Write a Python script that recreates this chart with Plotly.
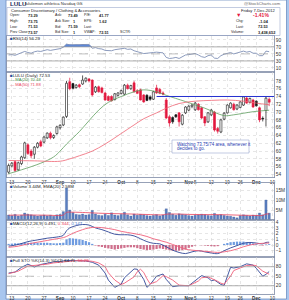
import plotly.graph_objects as go

W, H = 289, 300
def px(x): return x / W
def py(y): return 1 - y / H

FONT = "Liberation Sans"
RED = "#e3173e"
BLACK = "#111111"

# ---------------- data (trading-day index 0 = 10-Aug-2012 ... 81 = 7-Dec-2012) ----------------
opens = [54.6,56.2,57.3,55.2,56.8,58.3,61.6,60.0,59.2,61.0,
         62.4,62.3,63.4,64.6,63.5,64.5,66.0,66.7,68.9,77.8,
         77.3,76.3,77.0,77.2,78.0,78.5,78.2,75.2,76.5,76.2,
         74.9,74.0,74.0,73.2,74.3,74.8,74.6,76.9,76.0,77.5,
         75.5,75.7,74.4,74.3,73.9,73.3,76.2,75.8,74.9,73.1,
         68.8,68.6,69.3,69.8,66.9,69.8,70.5,71.5,70.6,72.0,
         71.1,68.8,67.5,69.3,70.0,65.8,64.9,68.2,69.8,71.1,
         72.0,70.8,71.2,71.8,73.6,72.5,73.1,72.8,71.1,68.4,
         70.4,73.29]
highs = [56.8,57.2,57.6,57.3,58.8,62.4,62.0,60.5,61.3,62.3,
         62.9,63.9,64.8,65.0,64.3,66.5,66.9,68.9,78.0,78.8,
         77.5,77.2,77.3,79.4,78.9,78.7,78.4,76.7,76.8,76.5,
         75.2,74.3,74.3,74.9,75.1,75.8,77.2,77.3,77.0,78.0,
         75.9,76.0,74.6,74.6,74.3,75.4,77.0,76.2,75.3,73.6,
         69.2,68.9,69.5,70.0,69.5,71.5,71.8,72.1,72.6,72.3,
         71.4,69.0,70.0,70.8,70.3,66.2,68.3,70.0,72.0,72.5,
         72.4,72.0,72.8,74.1,73.9,73.7,73.4,73.0,71.4,68.9,
         73.9,73.75]
lows = [54.2,55.8,54.6,54.9,56.4,58.0,59.0,58.2,58.0,60.7,
        61.0,62.0,63.1,63.0,63.1,64.2,65.5,66.4,68.5,75.6,
        75.8,76.0,76.2,77.0,77.6,77.6,74.0,74.9,75.0,74.8,
        72.9,72.8,72.7,73.0,74.0,74.5,74.3,75.8,75.7,75.0,
        74.6,73.0,72.4,72.8,72.9,73.1,74.7,74.6,74.3,68.2,
        66.3,67.0,68.5,66.3,66.6,69.5,70.2,71.0,70.3,70.4,
        68.2,66.4,67.2,69.0,65.0,64.5,64.6,67.9,69.6,70.9,
        70.4,70.5,71.0,71.6,72.1,72.2,71.1,71.4,67.4,67.6,
        66.3,71.53]
closes = [56.3,56.9,55.0,57.0,58.5,62.1,59.4,58.8,61.0,62.0,
          61.3,63.6,64.6,63.4,64.0,66.2,66.6,68.7,77.4,76.0,
          76.1,76.9,76.5,78.2,78.7,78.0,74.4,76.4,75.2,75.0,
          73.1,73.0,72.9,74.7,74.9,75.5,76.9,76.0,76.8,75.2,
          74.8,73.1,72.6,73.0,73.3,75.2,74.9,74.8,74.6,68.5,
          67.2,67.5,68.8,67.5,69.2,71.3,71.5,71.8,72.3,70.6,
          68.5,67.2,69.8,70.5,65.4,65.1,68.0,69.7,71.8,72.3,
          70.6,71.8,72.6,73.9,72.3,73.5,71.3,71.6,68.0,68.2,
          73.57,72.53]
volume_m = [2.5,2.2,2.8,2.0,2.4,3.5,2.9,2.6,2.3,2.0,
            2.2,2.5,2.1,2.4,1.9,2.6,2.8,4.2,16.0,5.0,
            3.7,2.8,2.6,3.0,2.5,2.7,4.8,3.0,2.4,2.2,
            2.9,2.3,3.6,2.5,2.2,2.8,3.9,2.6,2.0,3.0,
            2.4,2.8,2.6,2.2,2.0,2.3,2.7,2.1,2.5,5.6,
            3.8,2.9,2.4,3.1,2.8,2.6,2.2,2.0,2.4,2.6,
            2.9,2.7,2.3,2.1,3.3,2.5,2.7,2.3,2.0,1.9,
            1.5,1.1,2.2,2.6,2.3,2.0,2.4,2.3,3.5,2.6,
            10.0,3.44]
rsi = [47,48,46,50,53,57,54,52,56,58,
       57,60,62,60,61,64,65,69,78,76,
       76,77,76,78,78,77,66,68,65,64,
       60,60,59,62,63,64,66,63,64,59,
       57,53,51,52,52,54,55,54,53,40,
       37,38,40,37,43,47,48,49,51,47,
       42,40,45,47,38,37,45,49,52,54,
       50,53,55,58,55,57,52,52,45,45,
       58,56.29]
macd_hist = [0.2,0.25,0.3,0.3,0.35,0.4,0.4,0.4,0.4,0.4,
             0.4,0.4,0.4,0.35,0.3,0.3,0.35,0.4,1.0,1.2,
             1.15,1.1,1.0,0.9,0.7,0.5,0.2,-0.1,-0.25,-0.35,
             -0.5,-0.6,-0.7,-0.8,-0.7,-0.6,-0.5,-0.4,-0.4,-0.4,
             -0.55,-0.7,-0.8,-0.9,-0.85,-0.8,-0.7,-0.6,-0.7,-0.8,
             -0.9,-1.0,-1.0,-1.0,-0.9,-0.8,-0.5,-0.3,-0.1,0.0,
             -0.05,-0.1,-0.15,-0.2,-0.25,-0.2,0.0,0.2,0.35,0.5,
             0.55,0.6,0.6,0.6,0.5,0.45,0.3,0.15,-0.05,-0.1,
             0.1,0.147]

ma20_x = [0,4,10,14,16,18,22,25,28,31,35,39,42,46,49,55,61,67,70,76,81]
ma20 = [54.2,55.2,56.9,58.5,60.0,61.8,65.0,67.8,70.5,72.5,74.0,75.2,75.7,75.2,74.3,72.7,71.0,69.1,69.3,70.1,70.48]
ma50_x = [0,8,16,19,22,26,30,35,39,42,46,49,53,58,63,68,73,77,81]
ma50 = [57.6,57.5,57.4,58.0,58.8,60.0,61.8,64.5,66.7,68.3,69.8,71.0,72.2,72.8,73.0,73.1,72.8,72.3,71.88]
ema_x = [0,6,12,17,18,20,24,28,32,36,40,44,48,49,52,56,60,64,68,72,76,79,80,81]
ema_vol = [2.4,2.5,2.4,2.5,3.8,3.9,3.7,3.4,3.2,3.1,2.9,2.7,2.6,2.9,3.0,2.8,2.7,2.7,2.6,2.4,2.3,2.3,3.0,3.0]
macd_x = [0,3,6,9,12,15,17,18,19,21,23,25,27,29,31,33,35,37,39,41,43,45,47,49,51,53,55,57,59,61,63,65,67,69,71,73,75,77,79,80,81]
macd_line = [-0.2,0.1,0.6,0.9,1.2,1.4,1.7,2.5,3.0,3.4,3.6,3.5,3.0,2.7,2.3,1.9,1.8,1.8,1.6,1.1,
             0.6,0.3,0.2,-0.3,-0.9,-1.3,-1.5,-1.2,-1.0,-1.2,-1.4,-1.5,-1.0,-0.5,-0.1,0.3,0.45,0.35,0.2,0.45,0.49]
signal_line = [-0.4,-0.2,0.2,0.5,0.8,1.1,1.3,1.5,1.8,2.3,2.7,3.0,3.1,3.05,2.9,2.7,2.4,2.2,2.0,1.8,
               1.5,1.1,0.8,0.5,0.1,-0.3,-0.7,-0.9,-1.0,-1.1,-1.2,-1.3,-1.2,-1.0,-0.7,-0.3,0.0,0.2,0.3,0.33,0.344]
stok_x = [0,2,4,6,8,10,12,14,16,18,21,24,26,28,30,31,33,35,36,39,40,42,43,44,46,48,49,51,53,56,59,60,62,63,64,66,67,69,70,72,74,76,77,79,80,81]
stok = [60,63,78,88,79,87,91,95,96,100,99,98,94,85,60,38,15,25,45,73,72,40,15,24,50,57,40,17,20,20,44,52,45,36,38,24,21,78,76,80,89,85,75,50,56,64.71]
stod_x = [0,3,6,8,10,12,14,16,18,21,24,26,28,30,31,33,35,36,39,40,41,42,43,44,46,48,49,51,53,56,59,60,62,63,65,66,67,69,70,72,74,76,77,79,80,81]
stod = [58,66,82,84,84,88,92,94,97,99,99,97,92,80,61,38,24,28,48,64,72,62,42,26,33,52,49,38,22,20,35,45,48,44,34,28,25,50,68,76,84,85,83,66,60,56.29]

tick_vals = [1,6,11,16,20,25,30,35,40,45,50,56,58,63,68,72,77,82]
tick_text = ["13","20","27","<b>Sep</b>","10","17","24","<b>Oct</b>","8","15","22","<b>Nov</b>","5","12","19","26","<b>Dec</b>","10"]
price_ticks = [54,56,58,60,62,64,66,68,70,72,74,76,78]
resistance_level = 74.0
resistance_start = 46

# ---------------- derived for drawing ----------------
n = len(closes)
idx = list(range(n))
prev = [opens[0]] + closes[:-1]
edge = [RED if c < p else BLACK for c, p in zip(closes, prev)]
fill = [e if c < o else "white" for e, c, o in zip(edge, closes, opens)]
body_base = [min(o, c) for o, c in zip(opens, closes)]
body_h = [max(abs(c - o), 0.1) for o, c in zip(opens, closes)]

def wicks(color):
    xs, ys = [], []
    for i in idx:
        if edge[i] != color:
            continue
        top = max(opens[i], closes[i]); bot = min(opens[i], closes[i])
        xs += [i, i, None, i, i, None]
        ys += [lows[i], bot, None, top, highs[i], None]
    return xs, ys

fig = go.Figure()
# RSI
fig.add_trace(go.Scatter(x=idx, y=[70]*n, mode="lines", line=dict(width=0), xaxis="x", yaxis="y", hoverinfo="skip"))
fig.add_trace(go.Scatter(x=idx, y=[max(v, 70) for v in rsi], mode="lines", line=dict(width=0),
                         fill="tonexty", fillcolor="#5b87d9", xaxis="x", yaxis="y", hoverinfo="skip"))
fig.add_trace(go.Scatter(x=idx, y=rsi, mode="lines", line=dict(color="#7f90b5", width=0.9), xaxis="x", yaxis="y"))
# Price
for col in (BLACK, RED):
    wx, wy = wicks(col)
    fig.add_trace(go.Scatter(x=wx, y=wy, mode="lines", line=dict(color=col, width=0.7), xaxis="x2", yaxis="y2"))
fig.add_trace(go.Bar(x=idx, y=body_h, base=body_base, width=0.62, marker=dict(color=fill, line=dict(color=edge, width=0.6)),
                     xaxis="x2", yaxis="y2"))
fig.add_trace(go.Scatter(x=ma20_x, y=ma20, mode="lines", line=dict(color="#5f9e5f", width=0.8, shape="spline"), xaxis="x2", yaxis="y2"))
fig.add_trace(go.Scatter(x=ma50_x, y=ma50, mode="lines", line=dict(color="#ef6474", width=0.8, shape="spline"), xaxis="x2", yaxis="y2"))
# Volume
fig.add_trace(go.Bar(x=idx, y=volume_m, width=0.7, marker=dict(color="#5a7fc0", line=dict(color="#3c5a94", width=0.3)),
                     xaxis="x3", yaxis="y3"))
fig.add_trace(go.Scatter(x=ema_x, y=ema_vol, mode="lines", line=dict(color="#e8405a", width=0.8, shape="spline"), xaxis="x3", yaxis="y3"))
# MACD
fig.add_trace(go.Bar(x=idx, y=macd_hist, width=0.7,
                     marker=dict(color=["#6e9be0" if v >= 0 else "#cf6f8c" for v in macd_hist], line=dict(width=0)),
                     xaxis="x4", yaxis="y4"))
fig.add_trace(go.Scatter(x=macd_x, y=macd_line, mode="lines", line=dict(color="#2f4596", width=0.9, shape="spline"), xaxis="x4", yaxis="y4"))
fig.add_trace(go.Scatter(x=macd_x, y=signal_line, mode="lines", line=dict(color="#f0607a", width=0.9, shape="spline"), xaxis="x4", yaxis="y4"))
# Full Stochastics
fig.add_trace(go.Scatter(x=stok_x, y=stok, mode="lines", line=dict(color="#2f4596", width=0.9), xaxis="x5", yaxis="y5"))
fig.add_trace(go.Scatter(x=stod_x, y=stod, mode="lines", line=dict(color="#f0607a", width=0.9), xaxis="x5", yaxis="y5"))

GRID = "#d6d6d6"
AXL = "#7d8aa5"
def xax(show):
    return dict(domain=[px(7), px(274)], range=[-0.5, 82.5], tickmode="array", tickvals=tick_vals, ticktext=tick_text,
                showgrid=True, gridcolor=GRID, griddash="dot", gridwidth=0.6, showline=True, mirror=True,
                linecolor=AXL, linewidth=0.8, zeroline=False, ticks="", showticklabels=show, tickangle=0,
                tickfont=dict(size=4.6, color="#333", family=FONT), fixedrange=True)
def yax(anchor, top, bot, rng, vals, text=None):
    d = dict(domain=[py(bot), py(top)], range=rng, side="right", anchor=anchor, tickmode="array", tickvals=vals,
             showgrid=True, gridcolor=GRID, griddash="dot", gridwidth=0.6, showline=True, mirror=True,
             linecolor=AXL, linewidth=0.8, zeroline=False, ticks="", tickangle=0,
             tickfont=dict(size=4.8, color="#333", family=FONT))
    if text:
        d["ticktext"] = text
    return d

shapes = [
    dict(type="rect", xref="paper", yref="paper", x0=px(6), x1=px(286.5), y0=py(299), y1=py(0),
         fillcolor="white", line=dict(color="#6f8fc0", width=0.8), layer="below"),
    dict(type="rect", xref="paper", yref="paper", x0=px(7), x1=px(280), y0=py(35.5), y1=py(7.5),
         fillcolor="rgba(0,0,0,0)", line=dict(color="#9aaacc", width=0.6)),
]
for lvl, dash in ((70, "solid"), (30, "solid"), (50, "dash")):
    shapes.append(dict(type="line", xref="x domain", yref="y", x0=0, x1=1, y0=lvl, y1=lvl,
                       line=dict(color="#9a9a9a", width=0.8 if dash == "solid" else 0.6, dash=dash)))
for lvl, dash in ((80, "solid"), (20, "solid"), (50, "dash")):
    shapes.append(dict(type="line", xref="x5 domain", yref="y5", x0=0, x1=1, y0=lvl, y1=lvl,
                       line=dict(color="#9a9a9a", width=0.8 if dash == "solid" else 0.6, dash=dash)))
shapes.append(dict(type="line", xref="x2", yref="y2", x0=resistance_start, x1=82.5, y0=resistance_level, y1=resistance_level,
                   line=dict(color="#2530d0", width=1)))
shapes.append(dict(type="rect", xref="paper", yref="paper", x0=px(172), x1=px(249), y0=py(153), y1=py(140),
                   fillcolor="white", line=dict(color="#9aaad0", width=0.6)))

ann = []
def t(x, y, s, size=4.0, color="#222", anchor="left"):
    ann.append(dict(x=px(x), y=py(y), xref="paper", yref="paper", text=s, showarrow=False, xanchor=anchor,
                    yanchor="middle", font=dict(size=size, color=color, family=FONT)))

t(8, 3.8, "<b>LULU</b>", size=6.2, color="#1a2a5a")
t(23, 3.8, "lululemon athletica Nasdaq GS", size=4.2, color="#333")
t(283, 3.8, "@StockCharts.com", size=4.2, color="#666", anchor="right")
t(9, 10.5, "Consumer Discretionary / Clothing & Accessories", size=4.1)
t(278, 10.5, "Friday 7-Dec-2012", size=4.1, anchor="right")
rows = [
    (15.5, "Open:", "73.29", "Ask:", "73.49", "P/E:", "41.77"),
    (21.2, "High:", "73.75", "Ask Size:", "1", "EPS:", "1.62"),
    (26.8, "Low:", "71.53", "Bid:", "71.59", "Last:", ""),
    (32.4, "Prev Close:", "73.57", "Bid Size:", "1", "VWAP:", "72.51"),
]
for y, a, av, b, bv, c, cv in rows:
    t(8, y, a, size=3.6); t(26, y, "<b>%s</b>" % av, size=3.9)
    t(53, y, b, size=3.6); t(70.5 if bv == "1" else 66, y, "<b>%s</b>" % bv, size=3.9)
    t(82, y, c, size=3.6)
    if cv:
        t(97, y, "<b>%s</b>" % cv, size=3.9)
t(118, 32.4, "SCTR:", size=3.6)
t(238, 15.5, "▼", size=5.5, color=RED, anchor="center")
t(271, 15.5, "<b>-1.41%</b>", size=5.0, color=RED, anchor="right")
t(234, 21.2, "Chg:", size=3.6); t(271, 21.2, "<b>-1.04</b>", size=3.9, anchor="right")
t(234, 26.8, "Last:", size=3.6); t(271, 26.8, "<b>72.53</b>", size=3.9, anchor="right")
t(229, 32.4, "Volume:", size=3.6); t(278, 32.4, "<b>3,438,652</b>", size=3.9, anchor="right")

SQ = '<span style="color:#2a4fa0">■</span>'
t(8, 38.5, SQ + "RSI(14) 56.29", size=4.4)
t(8, 75.5, SQ + "LULU (Daily) 72.53", size=4.4)
t(8, 80, "— MA(20) 70.48", size=4.2, color="#3f8f3f")
t(8, 84.5, "— MA(50) 71.88", size=4.2, color="#e84a5f")
t(8, 186, SQ + "Volume 3.44M, EMA(20) 2.58M", size=4.4)
t(8, 223, SQ + 'MACD(12,26,9) 0.491, <span style="color:#e8405a">0.344</span>, <span style="color:#4a78d0">0.147</span>', size=4.4)
t(8, 260, SQ + 'Full STO %K(14,3) %D(3) 64.71, <span style="color:#e8405a">56.29</span>', size=4.4)
t(175, 144, "Watching 73.75/74 area, whenever it", size=4.5, color="#1f3cb0")
t(175, 149, "decides to go.", size=4.5, color="#1f3cb0")

fig.update_layout(
    width=W, height=H, margin=dict(l=0, r=0, t=0, b=0), autosize=False,
    paper_bgcolor="#a9c6ee", plot_bgcolor="white", showlegend=False, barmode="overlay",
    font=dict(family=FONT, size=5, color="#333"),
    xaxis=xax(False), xaxis2=xax(True), xaxis3=xax(False), xaxis4=xax(False), xaxis5=xax(True),
    yaxis=yax("x", 36, 72, [-1.5, 101], [10, 30, 50, 70, 90]),
    yaxis2=yax("x2", 72, 177.5, [53.23, 80.28], price_ticks),
    yaxis3=yax("x3", 183, 220, [0, 18.5], [5, 10, 15], ["5M", "10M", "15M"]),
    yaxis4=yax("x4", 220, 257, [-2.1, 4.39], [-1, 0, 1, 2, 3, 4]),
    yaxis5=yax("x5", 257, 294, [-6, 110.6], [20, 50, 80]),
    shapes=shapes, annotations=ann, hovermode=False,
)
for k in ("xaxis2", "xaxis3", "xaxis4", "xaxis5"):
    fig.layout[k].matches = "x"
fig.layout.xaxis2.anchor = "y2"; fig.layout.xaxis3.anchor = "y3"
fig.layout.xaxis4.anchor = "y4"; fig.layout.xaxis5.anchor = "y5"; fig.layout.xaxis.anchor = "y"

fig.write_html("out.html", config={"displayModeBar": False, "staticPlot": True})
